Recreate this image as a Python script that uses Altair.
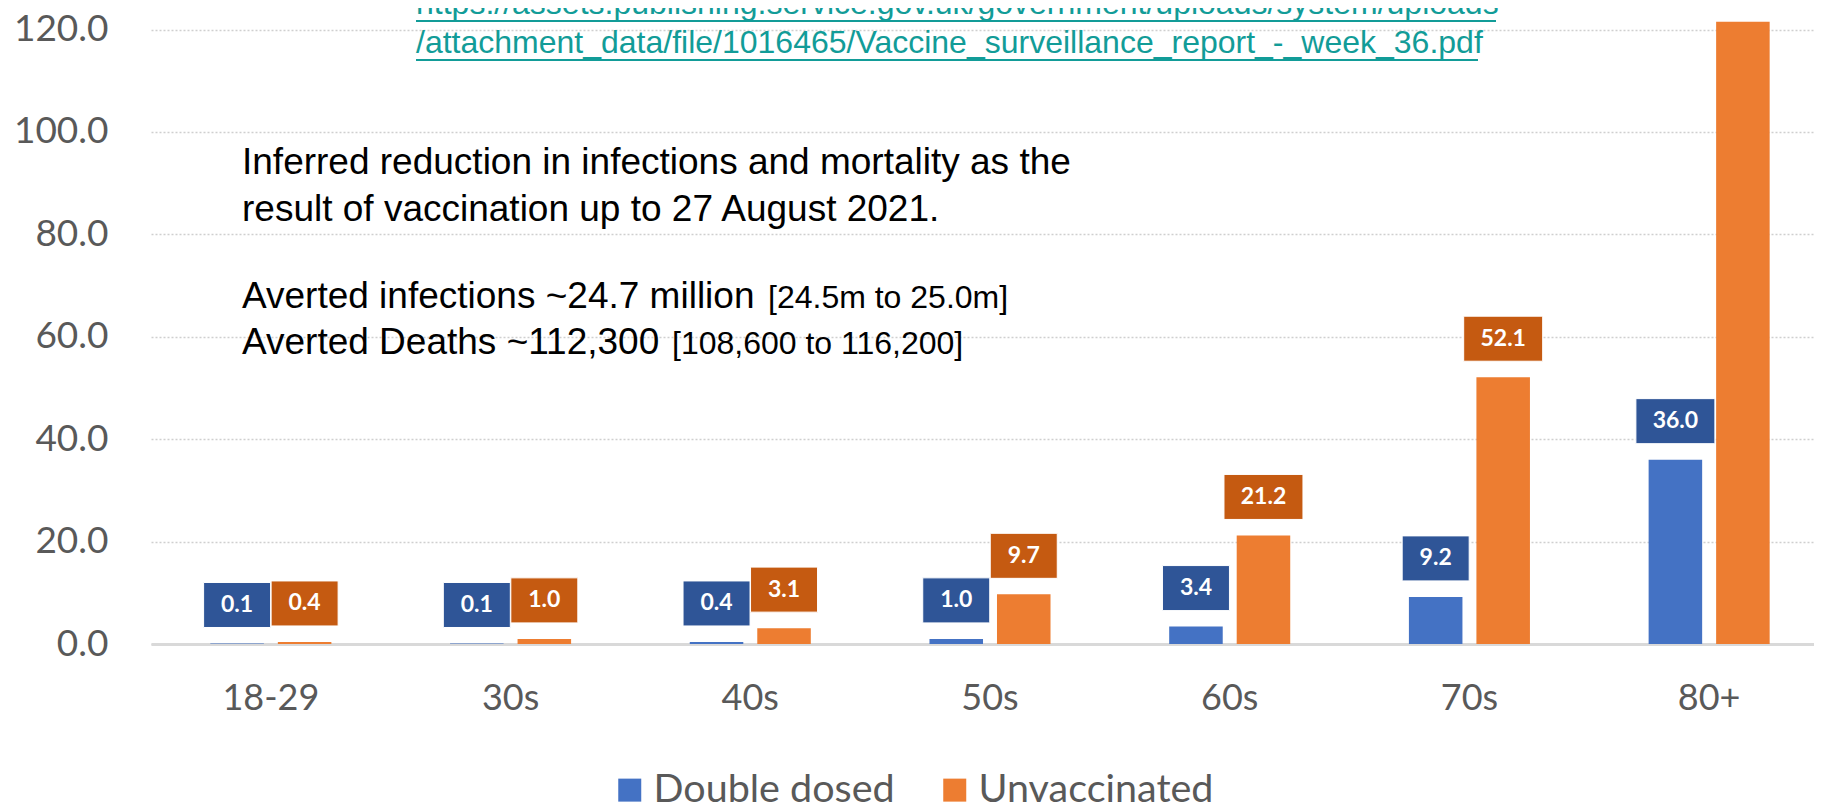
import altair as alt
import pandas as pd

# ---------------- data ----------------
age_groups = ["18-29", "30s", "40s", "50s", "60s", "70s", "80+"]
double_dosed = [0.1, 0.1, 0.4, 1.0, 3.4, 9.2, 36.0]
unvaccinated = [0.4, 1.0, 3.1, 9.7, 21.2, 52.1, 121.5]
series_names = ["Double dosed", "Unvaccinated"]
bar_colors = ["#4472C4", "#ED7D31"]
box_colors = ["#2F5597", "#C55A11"]
y_ticks = [0, 20, 40, 60, 80, 100, 120]

note_lines = [
    "Inferred reduction in infections and mortality as the",
    "result of vaccination up to 27 August 2021.",
]
averted_main = ["Averted infections ~24.7 million", "Averted Deaths ~112,300"]
averted_range = ["[24.5m to 25.0m]", "[108,600 to 116,200]"]
link_lines = [
    "https://assets.publishing.service.gov.uk/government/uploads/system/uploads",
    "/attachment_data/file/1016465/Vaccine_surveillance_report_-_week_36.pdf",
]

rows = []
for i, g in enumerate(age_groups):
    for s, vals in zip(series_names, [double_dosed, unvaccinated]):
        v = vals[i]
        lab = f"{v:.1f}"
        rows.append(dict(age=g, series=s, value=v, label=lab,
                         box="wide" if len(lab) > 3 else "narrow"))
df = pd.DataFrame(rows)

# ---------------- layout ----------------
PLOT_W = 1663
PLOT_H = 636
BAND_RANGE = 1678
Y_MAX = 124.2
TEAL = "#129c98"
GREY = "#595959"

x_enc = alt.X(
    "age:N",
    sort=age_groups,
    scale=alt.Scale(domain=age_groups, range=[0, BAND_RANGE], paddingInner=0, paddingOuter=0),
    axis=alt.Axis(title=None, labelAngle=0, labelFontSize=36, labelFont="Lato",
                  labelColor=GREY, labelPadding=37, ticks=False, grid=False,
                  domainColor="#d9d9d9", domainWidth=3),
)
xo_enc = alt.XOffset(
    "series:N",
    sort=series_names,
    scale=alt.Scale(domain=series_names, paddingInner=0.207, paddingOuter=0.879),
)
y_enc = alt.Y(
    "value:Q",
    scale=alt.Scale(domain=[0, Y_MAX], nice=False, zero=True),
    axis=alt.Axis(title=None, values=y_ticks, format=".1f", labelFontSize=37,
                  labelFont="Lato", labelColor=GREY, labelPadding=43, ticks=False,
                  domain=False, grid=True, gridDash=[2, 2], gridColor="#cfcfcf",
                  gridWidth=1.5),
)

base = alt.Chart(df)

bars = base.mark_bar().encode(
    x=x_enc,
    xOffset=xo_enc,
    y=y_enc,
    color=alt.Color(
        "series:N",
        sort=series_names,
        scale=alt.Scale(domain=series_names, range=bar_colors),
        legend=alt.Legend(title=None, orient="none", legendX=459, legendY=762,
                          direction="horizontal", symbolType="square",
                          symbolSize=529, symbolStrokeWidth=0, labelFontSize=39.5,
                          labelFont="Lato", labelColor=GREY, labelOffset=4,
                          columnPadding=40, padding=0, labelLimit=400),
    ),
)

path_narrow = "M-1,-0.672L1,-0.672L1,0.672L-1,0.672Z"
path_wide = "M-1.179,-0.672L1.179,-0.672L1.179,0.672L-1.179,0.672Z"

boxes = base.mark_point(filled=True, opacity=1, yOffset=-38.5, stroke="#ffffff",
                        strokeWidth=1).encode(
    x=x_enc,
    xOffset=xo_enc,
    y=y_enc,
    fill=alt.Fill("series:N", scale=alt.Scale(domain=series_names, range=box_colors),
                  legend=None),
    shape=alt.Shape("box:N", scale=alt.Scale(domain=["narrow", "wide"],
                                             range=[path_narrow, path_wide]),
                    legend=None),
    size=alt.value(4489),
)

labels = base.mark_text(dy=-38.5, color="white", font="Lato", fontWeight="bold",
                        fontSize=23, baseline="middle", align="center").encode(
    x=x_enc,
    xOffset=xo_enc,
    y=y_enc,
    text="label:N",
)


def text_layer(s, px, py, size, color="black", font="Liberation Sans"):
    return alt.Chart(pd.DataFrame({"t": [s]})).mark_text(
        align="left", baseline="alphabetic", fontSize=size, font=font, color=color
    ).encode(text="t:N", x=alt.value(px), y=alt.value(py))


def underline(x1, x2, py):
    return alt.Chart(pd.DataFrame({"t": [0]})).mark_rule(color=TEAL, strokeWidth=2).encode(
        x=alt.value(x1), x2=alt.value(x2), y=alt.value(py))


annotations = [
    text_layer(note_lines[0], 91, 166, 37),
    text_layer(note_lines[1], 91, 213, 37),
    text_layer(averted_main[0], 91, 300, 37),
    text_layer(averted_main[1], 91, 346, 37),
    text_layer(averted_range[0], 617, 300, 32),
    text_layer(averted_range[1], 521, 346, 32),
    text_layer(link_lines[0], 265, 6, 32, color=TEAL),
    text_layer(link_lines[1], 265, 45, 32, color=TEAL),
    underline(265, 1345, 13),
    underline(265, 1327, 52),
]

chart = alt.layer(bars, boxes, labels, *annotations).properties(
    width=PLOT_W,
    height=PLOT_H,
    padding={"left": 143, "top": 0, "right": 0, "bottom": 162},
    autosize=alt.AutoSizeParams(type="none"),
    background="white",
).configure_view(stroke=None)

chart.save("out.html", embed_options={"renderer": "svg", "actions": False})
